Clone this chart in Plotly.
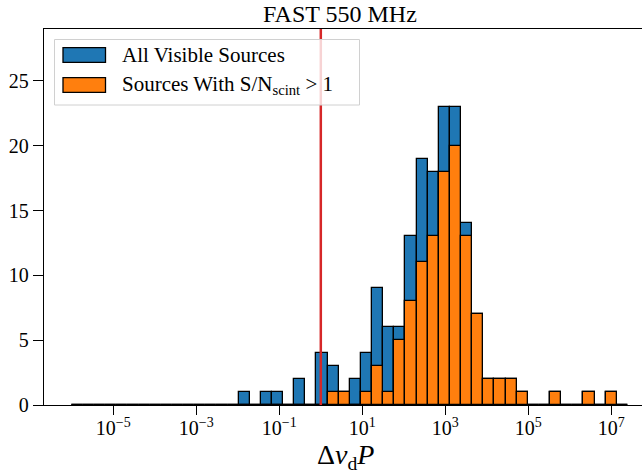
import numpy as np
import plotly.graph_objects as go

# ---- data: histogram of log10(Δν_d P), 50 log-spaced bins ----
log_bin_lo = -6.0
log_bin_hi = 7.4
n_bins = 50
# counts per bin (bins 0..49)
counts_all = [0]*15 + [1, 0, 1, 1, 0, 2, 0, 4, 3, 1, 2, 4, 9, 6, 6, 13, 19, 18, 23, 23,
                       14, 7, 2, 2, 2, 1, 0, 0, 1, 0, 0, 1, 0, 1, 0]
counts_snr = [0]*15 + [0, 0, 0, 0, 0, 0, 0, 0, 1, 1, 0, 1, 3, 1, 5, 8, 11, 13, 18, 20,
                       13, 7, 2, 2, 2, 1, 0, 0, 1, 0, 0, 1, 0, 1, 0]
threshold = 0.0  # log10(1)
xtick_vals = [-5, -3, -1, 1, 3, 5, 7]
ytick_vals = [0, 5, 10, 15, 20, 25]
series_names = ["All Visible Sources", "Sources With S/N<sub>scint</sub> > 1"]
colors = ["#1f77b4", "#ff7f0e"]

edges = np.linspace(log_bin_lo, log_bin_hi, n_bins + 1)
centers = (edges[:-1] + edges[1:]) / 2
width = edges[1] - edges[0]

W, H = 642, 474
ml, mr, mt, mb = 44, 0, 29, 69
FONT = "Liberation Serif"

fig = go.Figure()
for counts, name, col in zip([counts_all, counts_snr], series_names, colors):
    fig.add_trace(go.Bar(
        x=centers, y=counts, width=[width]*n_bins, name=name,
        marker=dict(color=col, line=dict(color="black", width=1.3)),
        showlegend=False, hoverinfo="skip",
    ))

fig.add_shape(type="line", x0=threshold, x1=threshold, y0=0, y1=1,
              xref="x", yref="paper", line=dict(color="#d62728", width=2.5),
              layer="above")

pw, ph = W - ml - mr, H - mt - mb
def px2paper(x, y):
    return (x - ml) / pw, 1 - (y - mt) / ph

# custom legend (matplotlib style)
lx0, ly0 = px2paper(54.5, 39.5)
lx1, ly1 = px2paper(359.5, 105)
fig.add_shape(type="rect", xref="paper", yref="paper", x0=lx0, x1=lx1, y0=ly1, y1=ly0,
              fillcolor="rgba(255,255,255,0.8)", line=dict(color="#d0d0d0", width=1),
              layer="above")
for i, (name, col) in enumerate(zip(series_names, colors)):
    yc = 55 + 30 * i
    sx0, sy0 = px2paper(63, yc - 7.3)
    sx1, sy1 = px2paper(105.5, yc + 7.3)
    fig.add_shape(type="rect", xref="paper", yref="paper", x0=sx0, x1=sx1, y0=sy1, y1=sy0,
                  fillcolor=col, line=dict(color="black", width=1.3), layer="above")
    tx, ty = px2paper(120, yc)
    fig.add_annotation(text=name, xref="paper", yref="paper", x=tx, y=ty,
                       xanchor="left", yanchor="middle", showarrow=False,
                       font=dict(family=FONT, size=21, color="black"))

# title
tx, ty = px2paper(340, 14)
fig.add_annotation(text="FAST 550 MHz", xref="paper", yref="paper", x=tx, y=ty,
                   xanchor="center", yanchor="middle", showarrow=False,
                   font=dict(family=FONT, size=24, color="black"))
# x-axis label
tx, ty = px2paper(345, 456)
fig.add_annotation(text="Δ<i>ν</i><sub>d</sub><i>P</i>", xref="paper", yref="paper", x=tx, y=ty,
                   xanchor="center", yanchor="middle", showarrow=False,
                   font=dict(family=FONT, size=28, color="black"))

xmin = -6.67
xmax = xmin + pw / 41.5
fig.update_layout(
    width=W, height=H,
    margin=dict(l=ml, r=mr, t=mt, b=mb),
    paper_bgcolor="white", plot_bgcolor="white",
    barmode="overlay", bargap=0,
    font=dict(family=FONT, size=20, color="black"),
    xaxis=dict(range=[xmin, xmax], tickvals=xtick_vals,
               ticktext=[f"10<sup>{v:+d}</sup>".replace("+", "").replace("-", "−") for v in xtick_vals],
               ticks="outside", ticklen=9, tickwidth=1.2, tickcolor="black",
               ticklabelstandoff=-4,
               showline=True, linecolor="black", linewidth=1.3, mirror=True,
               showgrid=False, zeroline=False, automargin=False,
               tickfont=dict(size=20)),
    yaxis=dict(range=[0, 29], tickvals=ytick_vals, ticks="outside", ticklen=10,
               tickwidth=1.2, tickcolor="black", showline=True, linecolor="black",
               linewidth=1.3, mirror=False, showgrid=False, zeroline=False,
               automargin=False, tickfont=dict(size=20)),
)

fig.write_html("out.html", config={"displayModeBar": False},
               post_script="document.body.style.margin='0';document.body.style.overflow='hidden';")
